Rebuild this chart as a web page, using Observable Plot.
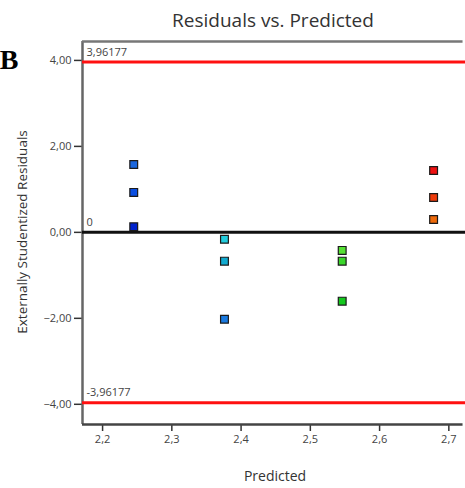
<!DOCTYPE html>
<html>
<head>
<meta charset="utf-8">
<script src="https://cdn.jsdelivr.net/npm/d3@7"></script>
<script src="https://cdn.jsdelivr.net/npm/@observablehq/plot@0.6"></script>
<style>
  html, body { margin: 0; padding: 0; background: #fff; }
  #chart { position: relative; width: 465px; height: 488px; overflow: hidden; }
  #chart svg { max-width: none !important; font-family: "Open Sans", "Noto Sans", sans-serif; }
</style>
</head>
<body>
<div id="chart"></div>
<script>
// Residuals of the four design groups against predicted response
const predicted = [2.245, 2.245, 2.245, 2.376, 2.376, 2.376, 2.546, 2.546, 2.546, 2.678, 2.678, 2.678];
const residuals = [1.58, 0.93, 0.13, -0.16, -0.67, -2.02, -0.42, -0.67, -1.60, 1.44, 0.81, 0.30];
const pointColors = ["#1a66dd", "#0a4ee0", "#0022cc", "#22ccdd", "#11aad0", "#1a7ae0",
                     "#55e033", "#3ad62a", "#14c81e", "#ee1111", "#ee3a0a", "#ee6a0a"];
const limit = 3.96177;
const limitLabels = ["3,96177", "0", "-3,96177"];
const limitValues = [limit, 0, -limit];
const xTicks = [2.2, 2.3, 2.4, 2.5, 2.6, 2.7];
const yTicks = [-4, -2, 0, 2, 4];

const points = predicted.map((p, i) => ({p, r: residuals[i], c: pointColors[i]}));
const comma = s => s.replace(".", ",");

// the plot area runs past the right edge of the visible window
const xDomain = [2.171, 2.7385];
const yDomain = [-4.47, 4.44];

const plot = Plot.plot({
  width: 475,
  height: 488,
  marginTop: 41,
  marginLeft: 82,
  marginRight: 0,
  marginBottom: 64,
  style: {fontSize: "11px", color: "#333", fontFamily: "'Open Sans', 'Noto Sans', sans-serif"},
  x: {domain: xDomain, label: null},
  y: {domain: yDomain, label: null},
  marks: [
    Plot.axisX({ticks: xTicks, tickFormat: d => comma(d3.format(".1f")(d)), tickSize: 7, tickPadding: 4, stroke: "#333", strokeWidth: 1.5, fill: "#444", label: null}),
    Plot.axisY({ticks: yTicks, tickFormat: d => comma(d3.format(".2f")(d)), tickSize: 8, tickPadding: 3, stroke: "#333", strokeWidth: 1.5, fill: "#444", label: null}),
    // plot frame: left, bottom, top
    Plot.ruleX([xDomain[0]], {stroke: "#666", strokeWidth: 2.5}),
    Plot.ruleY([yDomain[1]], {x1: xDomain[0], x2: 2.7205, stroke: "#777", strokeWidth: 2.5}),
    Plot.ruleY([yDomain[0]], {x1: xDomain[0], x2: 2.7205, stroke: "#444", strokeWidth: 2.5}),
    // limit lines and zero line
    Plot.ruleY([limit, -limit], {stroke: "#ff1010", strokeWidth: 3}),
    Plot.ruleY([0], {stroke: "#111", strokeWidth: 3}),
    Plot.text(limitValues, {
      x: xDomain[0], y: d => d, text: (d, i) => limitLabels[i],
      textAnchor: "start", dx: 4, dy: -10, fill: "#444", fontSize: 11
    }),
    Plot.dot(points, {
      x: "p", y: "r", fill: "c", symbol: "square", r: 4.4,
      stroke: "#1a1a1a", strokeWidth: 1.2
    })
  ]
});

const svg = d3.select(plot);
svg.append("text")
  .attr("x", 273).attr("y", 27)
  .attr("text-anchor", "middle")
  .attr("font-size", 19).attr("fill", "#333")
  .text("Residuals vs. Predicted");
svg.append("text")
  .attr("x", 9).attr("y", 69)
  .attr("font-family", "'Liberation Serif', 'DejaVu Serif', serif")
  .attr("font-weight", "bold")
  .attr("font-size", 28).attr("fill", "#000")
  .text("B");
svg.append("text")
  .attr("transform", "translate(27,232) rotate(-90)")
  .attr("text-anchor", "middle")
  .attr("font-size", 13.5).attr("fill", "#333")
  .text("Externally Studentized Residuals");
svg.append("text")
  .attr("x", 275).attr("y", 481)
  .attr("text-anchor", "middle")
  .attr("font-size", 14).attr("fill", "#333")
  .text("Predicted");

document.getElementById("chart").appendChild(plot);
</script>
</body>
</html>
